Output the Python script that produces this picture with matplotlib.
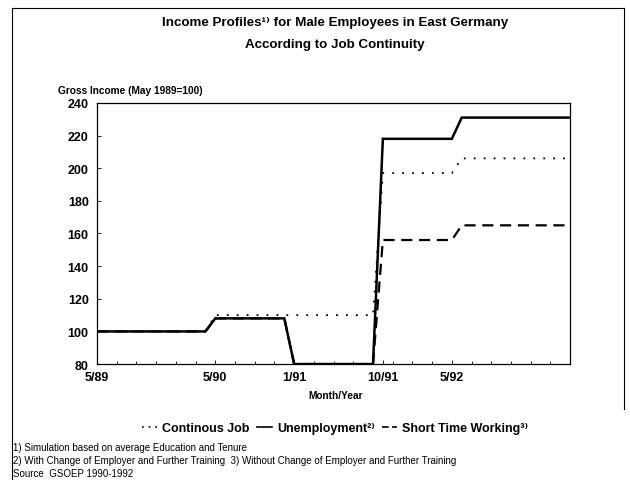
import numpy as np
import matplotlib
matplotlib.use("Agg")
import matplotlib.pyplot as plt
from matplotlib.lines import Line2D

plt.rcParams['font.family'] = ['Liberation Sans', 'DejaVu Sans']

# months since 5/89
months = [0, 11, 12, 19, 20, 28, 29, 36, 37, 48]
unemployment = [100, 100, 108, 108, 80, 80, 218, 218, 231, 231]
short_time = [100, 100, 108, 108, 80, 80, 156, 156, 165, 165]
months_cont = [0, 11, 12, 28, 29, 36, 37, 48]
continuous = [100, 100, 110, 110, 197, 197, 206, 206]

tick_months = [0, 12, 20, 29, 36]
tick_labels = ["5/89", "5/90", "1/91", "10/91", "5/92"]
y_ticks = [80, 100, 120, 140, 160, 180, 200, 220, 240]

fig = plt.figure(figsize=(6.3, 4.81), dpi=100)
ax = fig.add_axes([0.154, 0.241, 0.751, 0.543])

ax.plot(months, short_time, color='black', lw=1.6, ls=(0, (5, 3)), zorder=2)
ax.plot(months_cont, continuous, color='black', lw=1.3, ls=(0, (1, 4.5)), zorder=3)
ax.plot(months, unemployment, color='black', lw=1.8, zorder=4, solid_joinstyle='miter')

ax.set_xlim(0, 48)
ax.set_ylim(80, 240)
ax.set_xticks(tick_months)
ax.set_xticklabels(tick_labels, fontsize=9, fontweight='bold')
ax.set_xticks(np.arange(0, 49, 2), minor=True)
ax.set_yticks(y_ticks)
ax.set_yticklabels([str(v) for v in y_ticks], fontsize=9, fontweight='bold')
ax.tick_params(axis='y', which='major', direction='in', length=3, width=0.6, pad=6)
ax.tick_params(axis='x', which='major', direction='in', length=3, width=0.6, pad=5)
ax.tick_params(axis='x', which='minor', direction='in', length=2, width=0.6)
for s in ax.spines.values():
    s.set_linewidth(0.9)

fig.text(0.532, 0.953, "Income Profiles\u00b9\u207e for Male Employees in East Germany",
         ha='center', va='center', fontsize=9.6, fontweight='bold')
fig.text(0.532, 0.907, "According to Job Continuity",
         ha='center', va='center', fontsize=9.6, fontweight='bold')
fig.text(0.092, 0.81, "Gross Income (May 1989=100)", ha='left', va='center',
         fontsize=7.3, fontweight='bold')
fig.text(0.532, 0.177, "Month/Year", ha='center', va='center', fontsize=7.3, fontweight='bold')

handles = [Line2D([], [], color='black', lw=1.2, ls=(0, (1, 3))),
           Line2D([], [], color='black', lw=1.2),
           Line2D([], [], color='black', lw=1.2, ls=(0, (4, 2)))]
labels = ["Continous Job", "Unemployment\u00b2\u207e", "Short Time Working\u00b3\u207e"]
leg = fig.legend(handles, labels, loc='center', bbox_to_anchor=(0.532, 0.108), ncol=3,
                 frameon=False, handlelength=1.2, handletextpad=0.4, columnspacing=0.6,
                 prop={'size': 9, 'weight': 'bold'})

foot = ["1) Simulation based on average Education and Tenure",
        "2) With Change of Employer and Further Training  3) Without Change of Employer and Further Training",
        "Source  GSOEP 1990-1992"]
for i, t in enumerate(foot):
    fig.text(0.021, 0.068 - i * 0.027, t, ha='left', va='center', fontsize=7)

# page frame
fig.add_artist(Line2D([12 / 630, 624 / 630], [1 - 9 / 481, 1 - 9 / 481], color='black', lw=0.8))
fig.add_artist(Line2D([12 / 630, 12 / 630], [1 - 9 / 481, 0], color='black', lw=0.8))
fig.add_artist(Line2D([624 / 630, 624 / 630], [1 - 9 / 481, 1 - 410 / 481], color='black', lw=0.8))

fig.savefig("out.png", dpi=100)
